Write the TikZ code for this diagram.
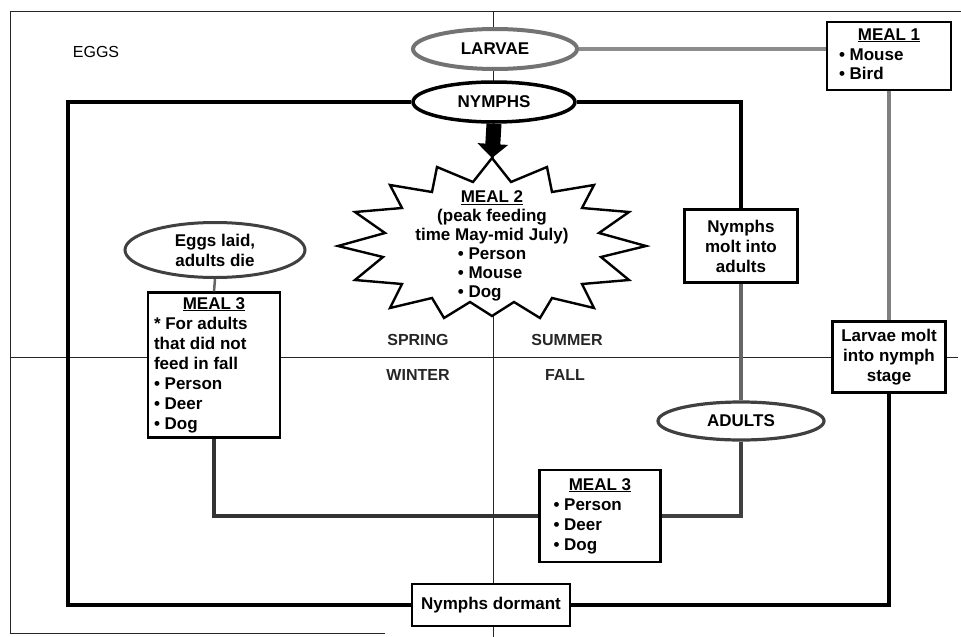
\documentclass[tikz,border=0pt]{standalone}
\usepackage{fontspec}
\setmainfont{Liberation Sans}
\usetikzlibrary{shapes.geometric,arrows.meta}
\begin{document}
\begin{tikzpicture}[x=1pt,y=-1pt,
 txt/.style={font=\bfseries\fontsize{17}{20}\selectfont},
 box/.style={txt, draw=black, line width=2.2pt, fill=white, inner sep=0pt, align=center},
 oval/.style={txt, ellipse, draw=black, line width=3.5pt, fill=white, inner sep=0pt, align=center},
 heavy/.style={line width=4.5pt, black},
 greyline/.style={line width=3.2pt, black!60},
 axis/.style={line width=1pt, black!85},
 season/.style={font=\bfseries\fontsize{16}{19}\selectfont, text=black!85},
 starline/.style={draw=black, line width=2.4pt, fill=white, line join=miter},
]
\useasboundingbox (0,0) rectangle (961,637);

% frame and season axes
\coordinate (ftl) at (10,11);
\coordinate (ftr) at (961,11);
\coordinate (fbl) at (10,633);
\coordinate (fbr) at (385,633);
\draw[axis] (ftr) -- (ftl) -- (fbl) -- (fbr);
\coordinate (vtop) at (493,11);
\coordinate (vbot) at (493,637);
\coordinate (hl) at (10,357);
\coordinate (hr) at (958,357);
\draw[axis] (vtop) -- (vbot);
\draw[axis] (hl) -- (hr);

% labels
\node[font=\fontsize{16}{19}\selectfont] (eggsl) at (96,52) {EGGS};
\node[season] (spring) at (418,340) {SPRING};
\node[season] (summer) at (567,340) {SUMMER};
\node[season] (winter) at (418,375) {WINTER};
\node[season] (fall) at (565,375) {FALL};

% starburst
\coordinate (startop) at (492,158);
\draw[starline] (startop) -- (511,182) -- (547,167) -- (552,192) -- (594,185) -- (582,208)
 -- (629,212) -- (599,233) -- (646,246) -- (601,257) -- (629,280) -- (582,284) -- (594,308)
 -- (552,298) -- (540,318) -- (514,302) -- (492,316) -- (470,302) -- (444,318) -- (432,298)
 -- (390,308) -- (402,284) -- (355,280) -- (383,257) -- (338,246) -- (385,233) -- (355,212)
 -- (402,208) -- (390,185) -- (432,192) -- (437,167) -- (473,182) -- cycle;
\node[font=\bfseries\fontsize{17}{19}\selectfont, inner sep=0pt] (meal2) at (492,246)
 {\begin{tabular}{@{}c@{}}\underline{MEAL 2}\\ (peak feeding\\ time May-mid July)\\
  \begin{tabular}[t]{@{}l@{}}• Person\\ • Mouse\\ • Dog\end{tabular}\end{tabular}};

% stage nodes
\node[oval, draw=black!55, line width=4pt, minimum width=164pt, minimum height=40pt] (larvae) at (495,49) {LARVAE};
\node[oval, minimum width=162pt, minimum height=40pt] (nymphs) at (494,102) {NYMPHS};
\node[box, minimum width=124pt, minimum height=68pt] (meal1) at (889,56)
 {\begin{tabular}{@{}l@{}}\multicolumn{1}{@{}c@{}}{\makebox[100pt]{\underline{MEAL 1}}}\\ • Mouse\\ • Bird\end{tabular}};
\node[box, minimum width=113pt, minimum height=73pt] (nmolt) at (741,246) {Nymphs\\molt into\\adults};
\node[box, minimum width=113pt, minimum height=71pt] (lmolt) at (889,357) {Larvae molt\\into nymph\\stage};
\node[oval, draw=black!75, line width=3.2pt, minimum width=166pt, minimum height=38pt] (adults) at (741,421) {ADULTS};
\node[box, minimum width=121pt, minimum height=92pt] (meal3b) at (600,516)
 {\begin{tabular}{@{}l@{}}\multicolumn{1}{@{}c@{}}{\makebox[93pt]{\underline{MEAL 3}}}\\ • Person\\ • Deer\\ • Dog\end{tabular}};
\node[box, minimum width=158pt, minimum height=42pt] (dormant) at (491,605) {Nymphs dormant};
\node[box, minimum width=132pt, minimum height=145pt] (meal3a) at (214,365)
 {\begin{tabular}{@{}l@{}}\multicolumn{1}{@{}c@{}}{\makebox[120pt]{\underline{MEAL 3}}}\\ {*} For adults\\ that did not\\ feed in fall\\ • Person\\ • Deer\\ • Dog\end{tabular}};
\node[oval, draw=black!75, line width=3pt, minimum width=180pt, minimum height=55pt] (eggs) at (215,250) {Eggs laid,\\adults die};

% connectors
\coordinate (cl) at (68,605);
\draw[greyline, black!45] (larvae.east) -- (larvae.east -| meal1.west);
\draw[greyline, black!50] (meal1.south) -- (lmolt.north);
\draw[heavy] (nymphs.east) -| (nmolt.north);
\draw[heavy] (nymphs.west) -| (cl) -- (dormant.west);
\draw[heavy] (dormant.east) -| (lmolt.south);
\draw[greyline] (nmolt.south) -- (adults.north);
\draw[greyline, black!75] (adults.south) |- (meal3b.east);
\draw[greyline, black!80] (meal3b.west) -| (meal3a.south);
\draw[greyline, line width=2.5pt] (eggs.south) -- (meal3a.north);
\draw[line width=15pt, -{Triangle[width=30pt,length=14pt]}] (nymphs.south) -- (startop);
\end{tikzpicture}
\end{document}
